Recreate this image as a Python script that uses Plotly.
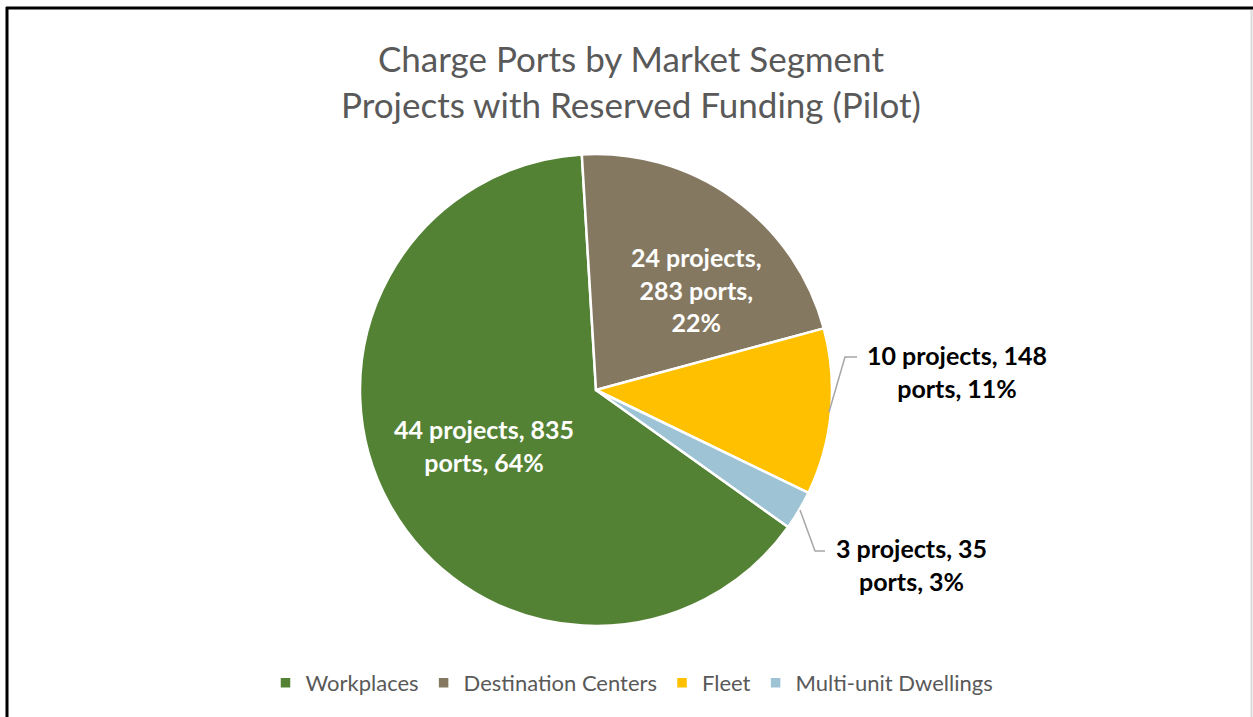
import plotly.graph_objects as go

categories = ["Workplaces", "Destination Centers", "Fleet", "Multi-unit Dwellings"]
ports = [835, 283, 148, 35]
projects = [44, 24, 10, 3]
colors = ["#548235", "#857861", "#FFC000", "#9DC3D4"]

W, H = 1253, 717
total = sum(ports)
pcts = [round(100 * p / total) for p in ports]

fig = go.Figure()
cx, cy, r = 596, 390, 236
fig.add_trace(go.Pie(
    labels=categories, values=ports, sort=False, direction="clockwise",
    rotation=125.5, textinfo="none", hoverinfo="label+value+percent",
    marker=dict(colors=colors, line=dict(color="white", width=2.5)),
    domain=dict(x=[(cx - r) / W, (cx + r) / W], y=[(H - cy - r) / H, (H - cy + r) / H]),
    showlegend=True,
))

def px(x):
    return x / W

def py(y):
    return (H - y) / H

labels = [
    f"{projects[0]} projects, {ports[0]}<br>ports, {pcts[0]}%",
    f"{projects[1]} projects,<br>{ports[1]} ports,<br>{pcts[1]}%",
    f"{projects[2]} projects, {ports[2]}<br>ports, {pcts[2]}%",
    f"{projects[3]} projects, {ports[3]}<br>ports, {pcts[3]}%",
]
label_pos = [(484, 446, "white"), (697, 289, "white"), (957, 371, "black"), (911, 564, "black")]
anns = []
for t, (x, y, c) in zip(labels, label_pos):
    anns.append(dict(text=t, x=px(x), y=py(y), xref="paper", yref="paper",
                     showarrow=False, xanchor="center", yanchor="middle",
                     font=dict(family="Lato", size=25, color=c, weight="bold")))
anns.append(dict(text="Charge Ports by Market Segment<br>Projects with Reserved Funding (Pilot)",
                 x=px(631), y=py(81), xref="paper", yref="paper", showarrow=False,
                 xanchor="center", yanchor="middle",
                 font=dict(family="Lato", size=35, color="#595959")))

shapes = [
    # leader lines
    dict(type="path", path=f"M {px(829)} {py(412)} L {px(845)} {py(357)} L {px(857)} {py(357)}",
         xref="paper", yref="paper", line=dict(color="#A6A6A6", width=1.5)),
    dict(type="path", path=f"M {px(800)} {py(510)} L {px(815)} {py(551)} L {px(825)} {py(551)}",
         xref="paper", yref="paper", line=dict(color="#A6A6A6", width=1.5)),
    # frame
    dict(type="line", x0=px(6), x1=px(1253), y0=py(8), y1=py(8), xref="paper", yref="paper",
         line=dict(color="black", width=3)),
    dict(type="line", x0=px(7), x1=px(7), y0=py(7), y1=py(717), xref="paper", yref="paper",
         line=dict(color="black", width=3)),
    dict(type="line", x0=px(1251.5), x1=px(1251.5), y0=py(10), y1=py(717), xref="paper", yref="paper",
         line=dict(color="#D9D9D9", width=2)),
]

fig.update_layout(
    width=W, height=H, margin=dict(l=0, r=0, t=0, b=0),
    paper_bgcolor="white", plot_bgcolor="white",
    annotations=anns, shapes=shapes,
    legend=dict(orientation="h", x=px(632), y=py(683), xanchor="center", yanchor="middle",
                font=dict(family="Lato", size=22, color="#595959"), itemclick=False,
                traceorder="normal"),
)

fig.write_html("out.html", config={"displayModeBar": False},
               post_script="document.body.style.margin='0';document.body.style.padding='0';document.body.style.overflow='hidden';")
